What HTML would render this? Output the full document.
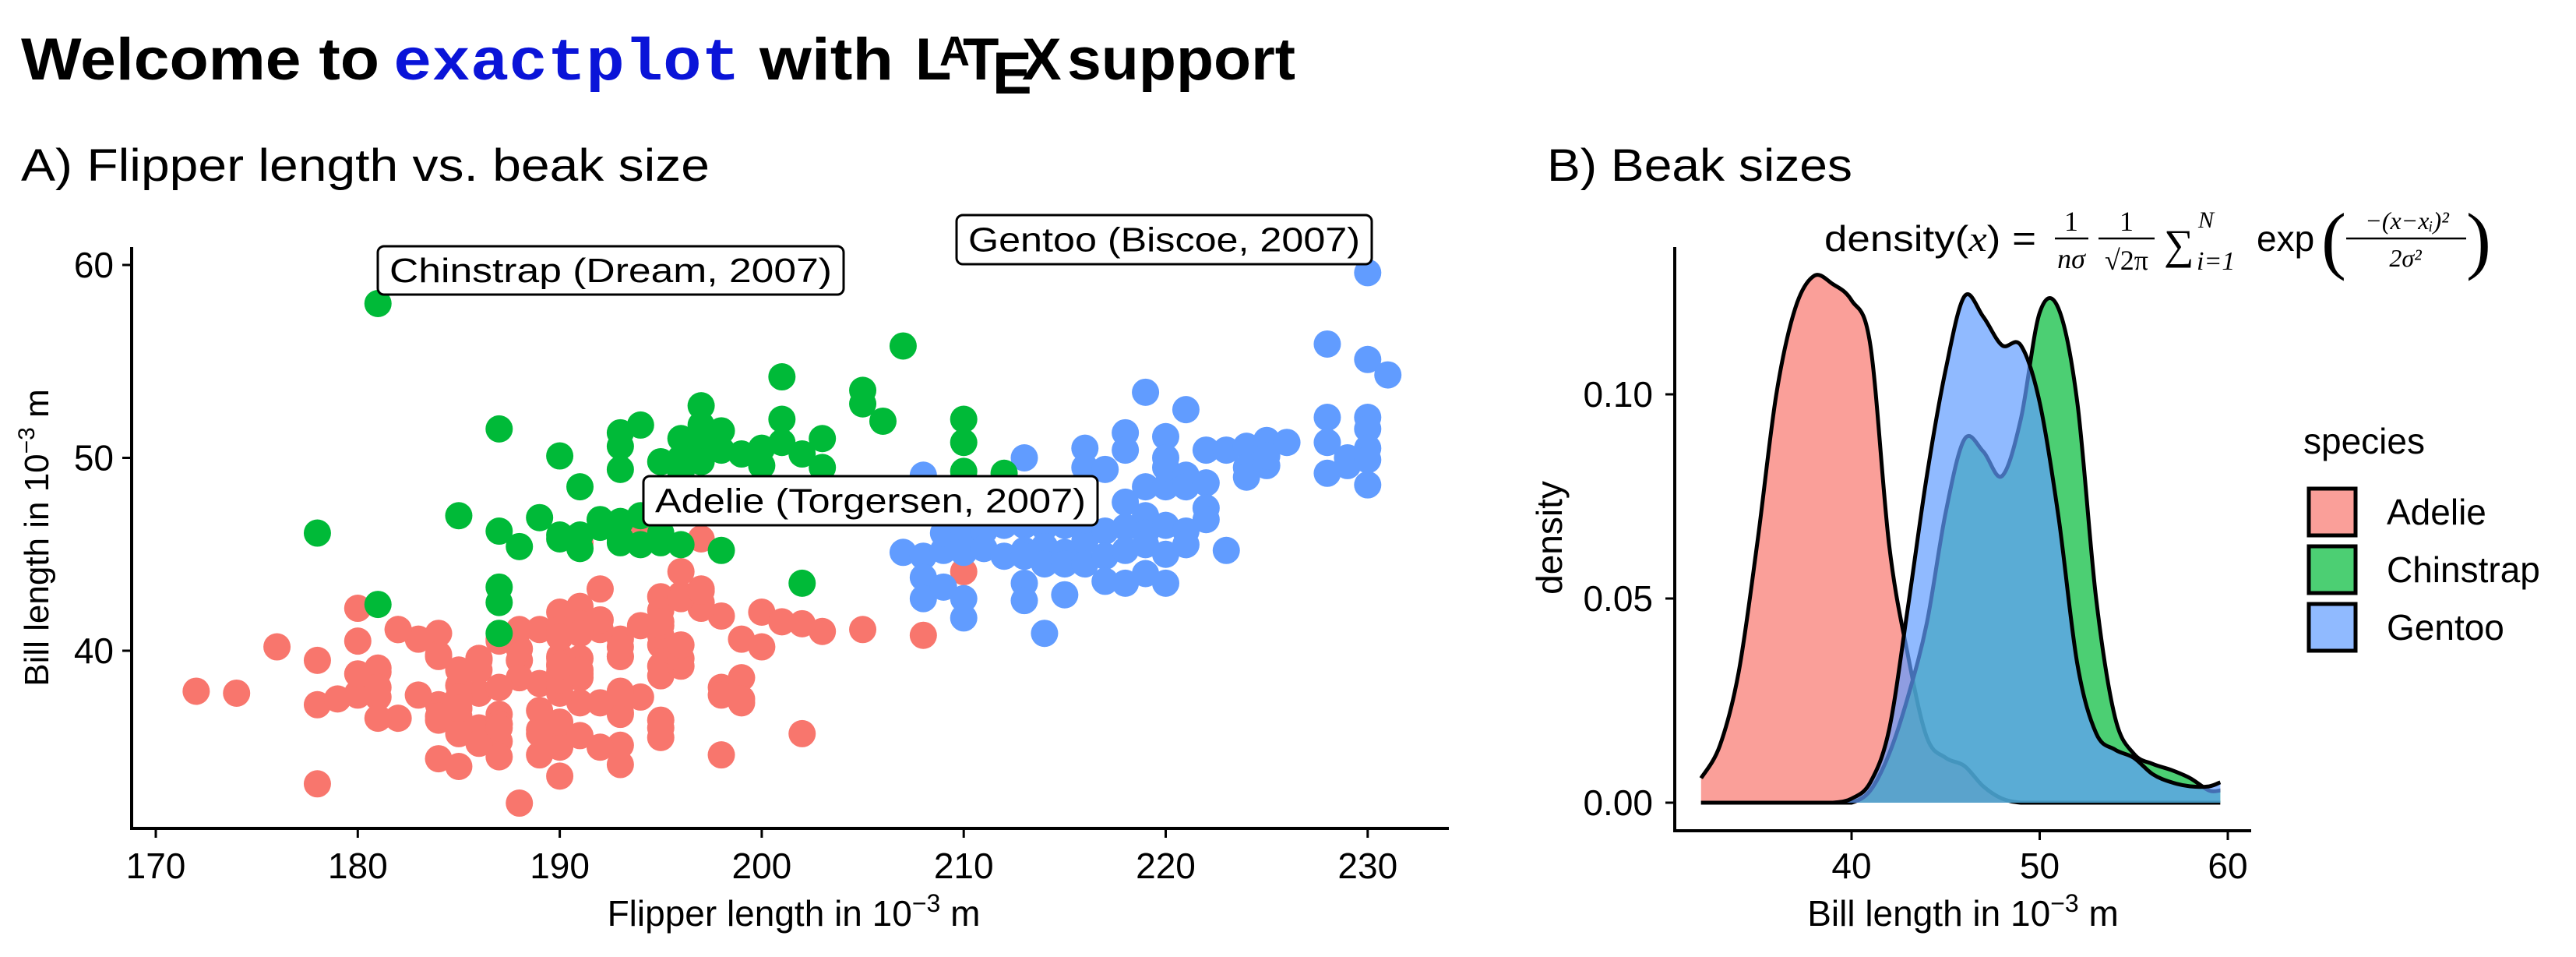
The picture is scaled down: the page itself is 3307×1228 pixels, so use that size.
<!DOCTYPE html>
<html><head><meta charset="utf-8"><style>
html,body{margin:0;padding:0;background:#fff;}
svg{display:block;}
text{font-family:"Liberation Sans Narrow","Liberation Sans",sans-serif;fill:#000;}
</style></head><body>
<svg id="fig" width="3307" height="1228" viewBox="0 0 3307 1228" xmlns="http://www.w3.org/2000/svg">
<g>
<text x="27" y="102" font-size="76" font-weight="bold" style="font-family:'Liberation Sans',sans-serif" textLength="460" lengthAdjust="spacingAndGlyphs">Welcome to</text>
<text x="505" y="102" font-size="76" font-weight="bold" style="font-family:'Liberation Mono',monospace;fill:#0a14d8" textLength="445" lengthAdjust="spacingAndGlyphs">exactplot</text>
<text x="975" y="102" font-size="76" font-weight="bold" style="font-family:'Liberation Sans',sans-serif" textLength="172" lengthAdjust="spacingAndGlyphs">with</text>
<text x="1175" y="102" font-size="76" font-weight="bold" style="font-family:'Liberation Sans',sans-serif">L</text>
<text x="1206" y="84" font-size="54" font-weight="bold" style="font-family:'Liberation Sans',sans-serif">A</text>
<text x="1236" y="102" font-size="76" font-weight="bold" style="font-family:'Liberation Sans',sans-serif">T</text>
<text x="1274" y="120" font-size="76" font-weight="bold" style="font-family:'Liberation Sans',sans-serif">E</text>
<text x="1312" y="102" font-size="76" font-weight="bold" style="font-family:'Liberation Sans',sans-serif">X</text>
<text x="1370" y="102" font-size="76" font-weight="bold" style="font-family:'Liberation Sans',sans-serif" textLength="293" lengthAdjust="spacingAndGlyphs">support</text>
</g>
<text x="27" y="232" font-size="58" textLength="884" lengthAdjust="spacingAndGlyphs">A) Flipper length vs. beak size</text>
<text x="1986" y="232" font-size="58" textLength="392" lengthAdjust="spacingAndGlyphs">B) Beak sizes</text>
<g id="pa"></g>
<g id="pb"></g>
</svg>
<script>
// ---------- Panel A data ----------
const adelieFlipper=[181,186,195,193,190,181,195,193,190,186,180,182,191,198,185,195,197,184,194,174,180,189,185,180,187,183,187,172,180,178,178,188,184,195,196,190,180,181,184,182,195,186,196,185,190,182,179,190,191,186,188,190,200,187,191,186,193,181,194,185,195,185,192,184,192,195,188,190,198,190,190,196,197,190,195,191,184,187,195,189,196,187,193,191,194,190,189,189,190,202,205,185,186,187,208,190,196,178,192,192,203,183,190,193,184,199,190,181,197,198,191,193,197,191,196,188,199,189,189,187,198,176,202,186,199,191,195,191,210,190,197,193,199,187,190,191,200,185,193,193,187,188,190,192,185,190,184,195,193,187,201];
const adelieBill=[39.1,39.5,40.3,36.7,39.3,38.9,39.2,34.1,42.0,37.8,37.8,41.1,38.6,34.6,36.6,38.7,42.5,34.4,46.0,37.8,37.7,35.9,38.2,38.8,35.3,40.6,40.5,37.9,40.5,39.5,37.2,39.5,40.9,36.4,39.2,38.8,42.2,37.6,39.8,36.5,40.8,36.0,44.1,37.0,39.6,41.1,37.5,36.0,42.3,39.6,40.1,35.0,42.0,34.5,41.4,39.0,40.6,36.5,37.6,35.7,41.3,37.6,41.1,36.4,41.6,35.5,41.1,35.9,41.8,33.5,39.7,39.6,45.8,35.5,42.8,40.9,37.2,36.2,42.1,34.6,42.9,36.7,35.1,37.3,41.3,36.3,36.9,38.3,38.9,35.7,41.1,34.0,39.6,36.2,40.8,38.1,40.3,33.1,43.2,35.0,41.0,37.7,37.8,37.9,39.7,38.6,38.2,38.1,43.2,38.1,45.6,39.7,42.2,39.6,42.7,38.6,37.3,35.7,41.1,36.2,37.7,40.2,41.4,35.2,40.6,38.8,41.5,39.0,44.1,38.5,43.1,36.8,37.5,38.1,41.1,35.6,40.2,37.0,39.7,40.2,40.6,32.1,40.7,37.3,39.0,39.2,36.6,36.0,37.8,36.0,41.5];
const chinFlipper=[178,181,181,185,187,187,187,187,187,188,189,190,190,191,191,192,193,193,193,193,193,194,194,195,195,196,196,196,197,197,197,197,198,198,198,200,200,201,201,201,202,202,203,203,205,205,206,207,210,210,210,212,192,195,197,199,193,196,190,191,194];
const chinBill=[46.1,58.0,42.4,47.0,51.5,46.2,43.3,42.5,40.9,45.4,46.9,50.1,46.0,48.5,45.3,46.8,51.3,50.6,49.4,46.7,45.6,51.7,45.5,49.8,45.6,51.0,50.0,45.5,52.7,51.7,50.6,49.8,51.4,50.4,45.2,50.5,49.6,54.2,52.0,50.8,50.2,43.5,51.0,49.5,53.5,52.8,51.9,55.8,52.0,50.8,49.3,49.2,46.4,46.1,51.2,50.2,45.8,49.2,45.8,46.0,47.0];
const gentooFlipper=[207,208,208,208,208,209,209,209,210,210,210,210,210,210,211,211,212,212,213,213,213,213,213,213,213,214,214,214,214,214,215,215,215,215,216,216,216,216,216,216,217,217,217,217,218,218,218,218,218,218,219,219,219,219,219,219,220,220,220,220,220,220,220,221,221,221,221,221,222,222,222,222,223,223,224,224,224,225,225,225,226,228,228,228,228,229,229,230,230,230,230,230,230,230,231];
const gentooBill=[45.1,44.9,43.8,42.7,49.1,45.2,43.3,46.1,46.3,45.5,45.1,42.7,41.7,47.5,46.2,45.3,44.9,46.5,50.0,47.6,46.5,45.2,43.5,42.6,44.9,46.4,45.4,44.5,40.9,47.3,46.5,45.1,42.9,44.5,50.5,49.5,47.2,45.7,44.5,46.8,49.4,46.2,44.9,43.6,51.3,50.4,47.7,46.4,43.5,45.2,53.4,48.5,47.0,46.1,44.0,45.5,51.1,50.0,48.5,45.0,43.5,46.5,49.5,52.5,49.1,48.5,46.2,45.5,50.4,48.7,47.4,46.8,45.2,50.4,50.6,49.5,49.0,50.9,49.6,50.1,50.8,55.9,52.1,50.8,49.2,49.6,50.0,59.6,55.1,52.1,51.5,50.5,49.9,48.6,54.3];
const xTicksA=[170,180,190,200,210,220,230];
const yTicksA=[40,50,60];
const colors={Adelie:"#F8766D",Chinstrap:"#00BA38",Gentoo:"#619CFF"};
const NS="http://www.w3.org/2000/svg";
function mk(tag,attrs,parent,txt){const e=document.createElementNS(NS,tag);for(const k in attrs)e.setAttribute(k,attrs[k]);if(txt!==undefined)e.textContent=txt;parent.appendChild(e);return e;}
const xA=v=>200+(v-170)*25.93;
const yA=v=>340+(60-v)*24.75;
const pa=document.getElementById('pa');
function dots(fx,by,col,name){
  const g=mk('g',{},pa);
  
  
  for(let i=0;i<fx.length;i++){
    const c=mk('circle',{cx:xA(fx[i]),cy:yA(by[i]),r:17.5,fill:col},g);
    
    
  }
}
dots(adelieFlipper,adelieBill,colors.Adelie,'adelie');
dots(gentooFlipper,gentooBill,colors.Gentoo,'gentoo');
dots(chinFlipper,chinBill,colors.Chinstrap,'chinstrap');
let ax=mk('path',{d:'M169,317 V1063 H1860',stroke:'#000','stroke-width':4,fill:'none'},pa);


xTicksA.forEach(t=>{
  mk('line',{x1:xA(t),x2:xA(t),y1:1063,y2:1075,stroke:'#000','stroke-width':3},pa);
  const l=mk('text',{x:xA(t),y:1127,'font-size':46,'text-anchor':'middle'},pa,t);
  
  
});
yTicksA.forEach(t=>{
  mk('line',{x1:157,x2:169,y1:yA(t),y2:yA(t),stroke:'#000','stroke-width':3},pa);
  const l=mk('text',{x:146,y:yA(t)+16,'font-size':46,'text-anchor':'end'},pa,t);
  
  
});
let xt=mk('text',{x:1019,y:1188,'font-size':46,'text-anchor':'middle'},pa);
xt.innerHTML='Flipper length in 10<tspan dy="-18" font-size="32">−3</tspan><tspan dy="18"> m</tspan>';


let yt=mk('text',{x:0,y:0,'font-size':44,'text-anchor':'middle',transform:'translate(62,690) rotate(-90)',style:"font-family:'Liberation Sans',sans-serif"},pa);
yt.innerHTML='Bill length in 10<tspan dy="-18" font-size="30">−3</tspan><tspan dy="18"> m</tspan>';


function label(x,y,w,h,txt,name){
  const g=mk('g',{},pa);
  
  
  mk('rect',{x:x,y:y,width:w,height:h,rx:8,fill:'#fff',stroke:'#000','stroke-width':3},g);
  mk('text',{x:x+w/2,y:y+h/2+15,'font-size':44,'text-anchor':'middle',textLength:w-30,lengthAdjust:'spacingAndGlyphs'},g,txt);
}
label(485,316,598,62,'Chinstrap (Dream, 2007)','chinstrap-label');
label(1228,276,533,63,'Gentoo (Biscoe, 2007)','gentoo-label');
label(826,611,583,63,'Adelie (Torgersen, 2007)','adelie-label');

// ---------- Panel B data ----------
const gridX=[32,33,34,35,36,37,38,39,40,41,42,43,44,45,46,47,48,49,50,51,52,53,54,55,56,57,58,59,59.6];
const adelieDens=[0.006,0.014,0.032,0.064,0.100,0.121,0.129,0.127,0.123,0.112,0.063,0.036,0.016,0.011,0.009,0.004,0.001,0,0,0,0,0,0,0,0,0,0,0,0];
const chinDens=[0,0,0,0,0,0,0,0,0,0.003,0.012,0.026,0.044,0.071,0.089,0.086,0.080,0.094,0.120,0.121,0.098,0.050,0.021,0.012,0.0095,0.008,0.006,0.003,0.003];
const gentooDens=[0,0,0,0,0,0,0,0,0.001,0.005,0.018,0.048,0.080,0.106,0.124,0.119,0.112,0.112,0.098,0.070,0.034,0.017,0.013,0.011,0.007,0.005,0.004,0.004,0.005];
const xTicksB=[40,50,60];
const yTicksB=[0,0.05,0.10];
const yTickLabelsB=["0.00","0.05","0.10"];
const species=["Adelie","Chinstrap","Gentoo"];
const fills={Adelie:"#F8766D",Chinstrap:"#00BA38",Gentoo:"#619CFF"};
const xB=v=>2377+(v-40)*24.15;
const yB=v=>1030-v*5240;
const pb=document.getElementById('pb');
function smooth(xs,ys){
  const p=xs.map((x,i)=>[xB(x),yB(ys[i])]);
  let d='M'+p[0][0]+','+p[0][1];
  for(let i=0;i<p.length-1;i++){
    const p0=p[Math.max(0,i-1)],p1=p[i],p2=p[i+1],p3=p[Math.min(p.length-1,i+2)];
    const c1x=p1[0]+(p2[0]-p0[0])/6,c1y=p1[1]+(p2[1]-p0[1])/6;
    const c2x=p2[0]-(p3[0]-p1[0])/6,c2y=p2[1]-(p3[1]-p1[1])/6;
    d+=` C${c1x},${Math.min(c1y,1030)} ${c2x},${Math.min(c2y,1030)} ${p2[0]},${p2[1]}`;
  }
  return d;
}
[[adelieDens,'Adelie'],[chinDens,'Chinstrap'],[gentooDens,'Gentoo']].forEach(([ys,sp])=>{
  const line=smooth(gridX,ys);
  const area=line+` L${xB(gridX[gridX.length-1])},${yB(0)} L${xB(gridX[0])},${yB(0)} Z`;
  const a=mk('path',{d:area,fill:fills[sp],'fill-opacity':0.7,stroke:'none'},pb);
  
  
  const l=mk('path',{d:line,fill:'none',stroke:'#000','stroke-width':5}, pb);
  
  
});
let axb=mk('path',{d:'M2150,317 V1066 H2890',stroke:'#000','stroke-width':4,fill:'none'},pb);


xTicksB.forEach(t=>{
  mk('line',{x1:xB(t),x2:xB(t),y1:1066,y2:1078,stroke:'#000','stroke-width':3},pb);
  const l=mk('text',{x:xB(t),y:1127,'font-size':46,'text-anchor':'middle'},pb,t);
  
  
});
yTicksB.forEach((t,i)=>{
  mk('line',{x1:2138,x2:2150,y1:yB(t),y2:yB(t),stroke:'#000','stroke-width':3},pb);
  const l=mk('text',{x:2122,y:yB(t)+16,'font-size':46,'text-anchor':'end'},pb,yTickLabelsB[i]);
  
  
});
let xtb=mk('text',{x:2520,y:1188,'font-size':46,'text-anchor':'middle'},pb);
xtb.innerHTML='Bill length in 10<tspan dy="-18" font-size="32">−3</tspan><tspan dy="18"> m</tspan>';


let ytb=mk('text',{x:0,y:0,'font-size':46,'text-anchor':'middle',transform:'translate(2005,690) rotate(-90)'},pb,'density');


// formula
const fg=mk('g',{},pb);


const serif="font-family:'Liberation Serif',serif";
const ft=mk('text',{x:2342,y:322,'font-size':46,textLength:272,lengthAdjust:'spacingAndGlyphs'},fg);
ft.innerHTML='density(<tspan font-style="italic" style="font-family:\'Liberation Serif\',serif">x</tspan>) =';
mk('text',{x:2659,y:296,'font-size':36,'text-anchor':'middle',style:serif},fg,'1');
mk('line',{x1:2638,x2:2681,y1:306,y2:306,stroke:'#000','stroke-width':2.5},fg);
mk('text',{x:2659,y:344,'font-size':36,'text-anchor':'middle','font-style':'italic',style:serif},fg,'nσ');
mk('text',{x:2730,y:296,'font-size':36,'text-anchor':'middle',style:serif},fg,'1');
mk('line',{x1:2694,x2:2766,y1:306,y2:306,stroke:'#000','stroke-width':2.5},fg);
mk('text',{x:2730,y:346,'font-size':36,'text-anchor':'middle',style:serif},fg,'√2π');
mk('text',{x:2778,y:332,'font-size':54,style:serif},fg,'∑');
mk('text',{x:2822,y:292,'font-size':30,'font-style':'italic',style:serif},fg,'N');
mk('text',{x:2820,y:346,'font-size':34,'font-style':'italic',style:serif},fg,'i=1');
mk('text',{x:2897,y:322,'font-size':46},fg,'exp');
mk('text',{x:2980,y:340,'font-size':96,style:serif},fg,'(');
mk('text',{x:3090,y:294,'font-size':32,'text-anchor':'middle','font-style':'italic',style:serif},fg,'−(x−xᵢ)²');
mk('text',{x:3088,y:342,'font-size':32,'text-anchor':'middle','font-style':'italic',style:serif},fg,'2σ²');
mk('line',{x1:3012,x2:3166,y1:306,y2:306,stroke:'#000','stroke-width':2.5},fg);
mk('text',{x:3166,y:340,'font-size':96,style:serif},fg,')');
// legend
const lg=mk('g',{},pb);


const lt=mk('text',{x:2957,y:582,'font-size':46},lg,'species');


species.forEach((sp,i)=>{
  const g=mk('g',{},lg);
  
  
  const y0=627+i*74;
  mk('rect',{x:2964,y:y0,width:60,height:60,fill:fills[sp],'fill-opacity':0.7,stroke:'#000','stroke-width':5},g);
  mk('text',{x:3064,y:y0+46,'font-size':46},g,sp);
});
</script>
</body></html>
